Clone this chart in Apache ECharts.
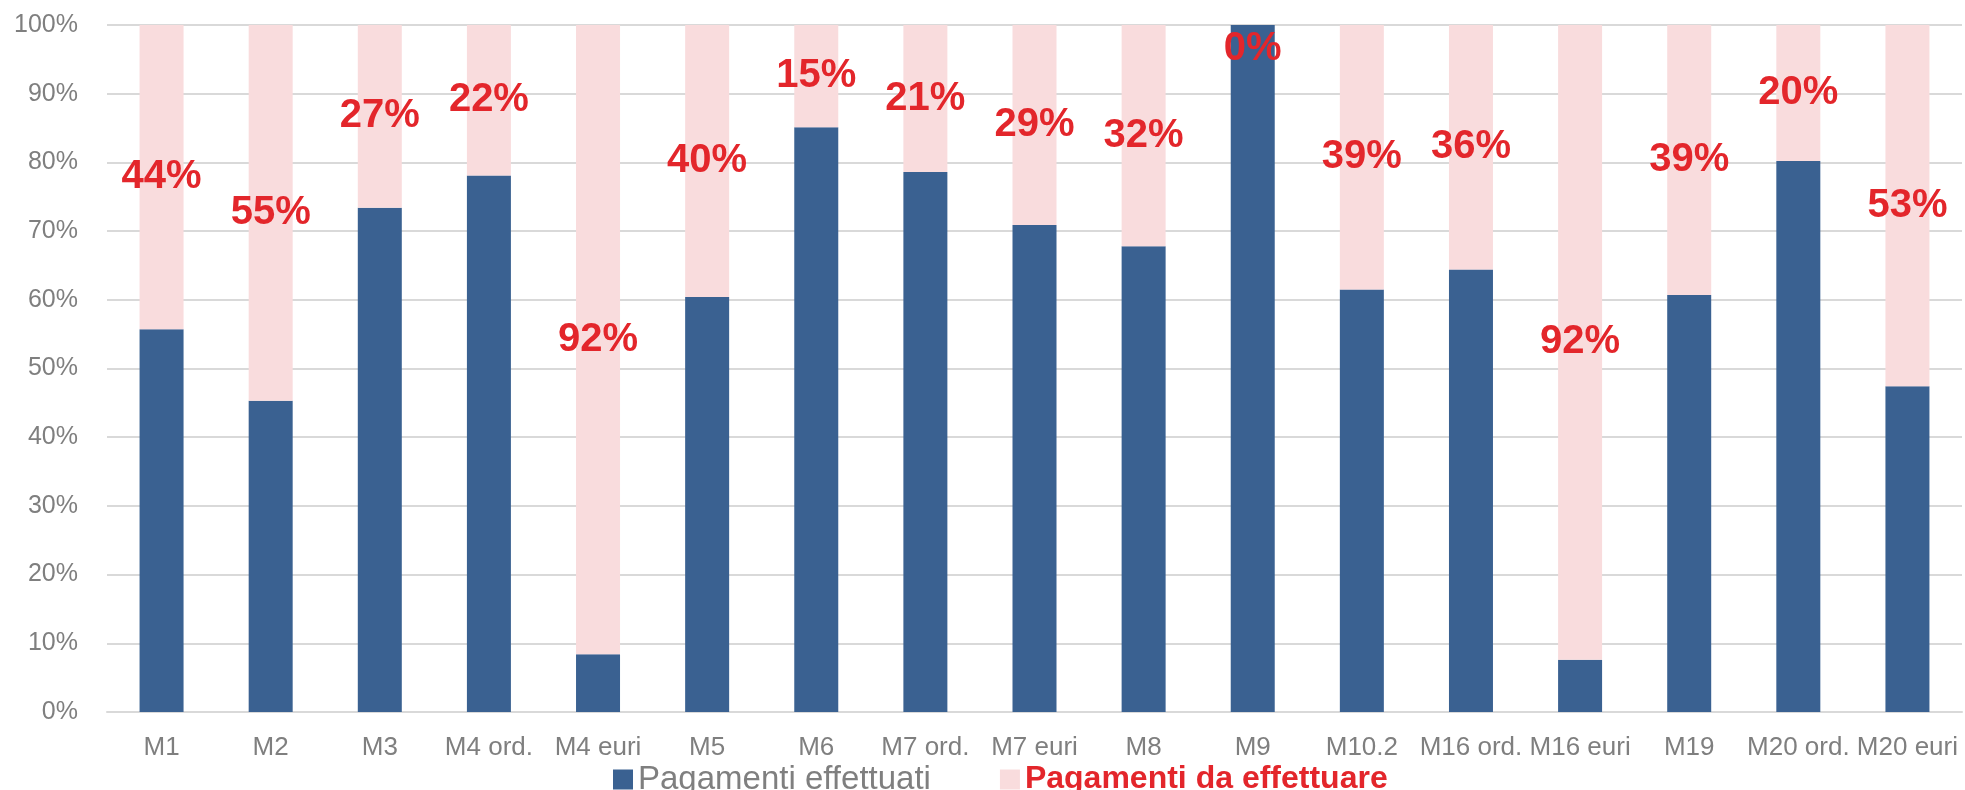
<!DOCTYPE html>
<html>
<head>
<meta charset="utf-8">
<script src="https://cdn.jsdelivr.net/npm/echarts@6/dist/echarts.min.js"></script>
<style>
  html, body { margin: 0; padding: 0; background: #fff; }
  #chart { width: 1965px; height: 790px; }
</style>
</head>
<body>
<div id="chart"></div>
<script>
// misure
const categories = ['M1', 'M2', 'M3', 'M4 ord.', 'M4 euri', 'M5', 'M6', 'M7 ord.', 'M7 euri',
  'M8', 'M9', 'M10.2', 'M16 ord.', 'M16 euri', 'M19', 'M20 ord.', 'M20 euri'];
// quota pagata (%)
const pagati = [55.7, 45.3, 73.4, 78.1, 8.4, 60.4, 85.1, 78.6, 70.9, 67.8, 100, 61.5, 64.4, 7.6, 60.7, 80.2, 47.4];
// quota ancora da pagare (%)
const daPagare = [44.3, 54.7, 26.6, 21.9, 91.6, 39.6, 14.9, 21.4, 29.1, 32.2, 0, 38.5, 35.6, 92.4, 39.3, 19.8, 52.6];
const yTicks = [0, 10, 20, 30, 40, 50, 60, 70, 80, 90, 100];

const BLU = '#3a6191', ROSA = '#f9dcdd', ROSSO = '#e3262b', GRIGIO = '#7f7f7f';
const FONT = '"Liberation Sans", Arial, sans-serif';

const chart = echarts.init(document.getElementById('chart'), null, {renderer: 'canvas'});

chart.setOption({
  animation: false,
  textStyle: {fontFamily: FONT},
  grid: {left: 107, right: 3, top: 25, bottom: 78, containLabel: false},
  legend: {
    left: 613,
    top: 763,
    padding: 0,
    icon: 'rect',
    itemWidth: 20,
    itemHeight: 20,
    itemGap: 69,
    textStyle: {fontSize: 32, fontFamily: FONT},
    data: [
      {name: 'Pagamenti effettuati', textStyle: {color: GRIGIO, fontSize: 33}},
      {name: 'Pagamenti da effettuare', textStyle: {color: ROSSO, fontWeight: 'bold', fontSize: 32}}
    ]
  },
  xAxis: {
    type: 'category',
    data: categories,
    axisLine: {show: true, lineStyle: {color: '#d9d9d9', width: 2}},
    axisTick: {show: false},
    axisLabel: {interval: 0, color: GRIGIO, fontSize: 26, margin: 23, fontFamily: FONT}
  },
  yAxis: {
    type: 'value',
    min: yTicks[0],
    max: yTicks[yTicks.length - 1],
    interval: 10,
    axisLine: {show: false},
    axisTick: {show: false},
    splitLine: {lineStyle: {color: '#d9d9d9', width: 2}},
    axisLabel: {color: GRIGIO, fontSize: 25, margin: 29, formatter: v => v + '%', fontFamily: FONT}
  },
  series: [
    {
      name: 'Pagamenti effettuati',
      type: 'bar',
      stack: 'tot',
      barWidth: 44,
      itemStyle: {color: BLU},
      data: pagati
    },
    {
      name: 'Pagamenti da effettuare',
      type: 'bar',
      stack: 'tot',
      barWidth: 44,
      itemStyle: {color: ROSA},
      label: {
        show: true,
        position: 'inside',
        color: ROSSO,
        fontWeight: 'bold',
        fontSize: 40,
        fontFamily: FONT,
        formatter: p => Math.round(p.value) + '%'
      },
      data: daPagare.map(v => v === 0 ? {value: v, label: {offset: [0, 24]}} : v)
    }
  ]
});
</script>
</body>
</html>
